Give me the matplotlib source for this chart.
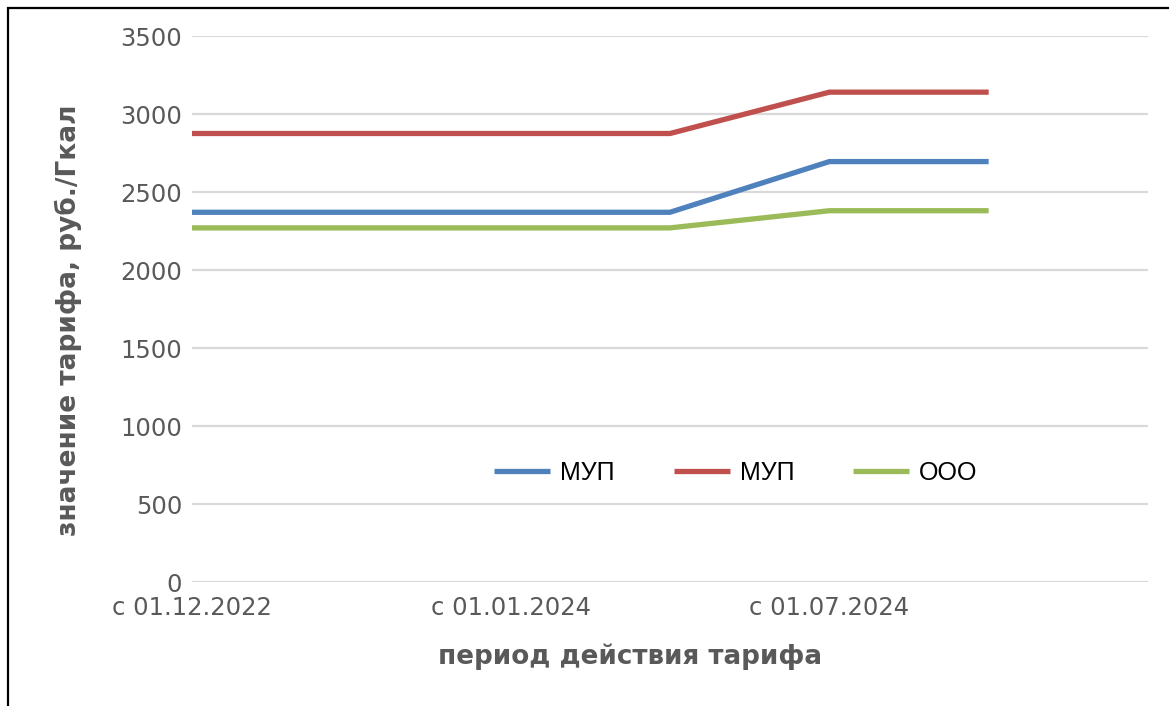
import matplotlib
matplotlib.use("Agg")
import matplotlib.pyplot as plt
from matplotlib.patches import Rectangle

# categories (every second one has no label on the axis)
periods = ['с 01.12.2022', '', 'с 01.01.2024', '', 'с 01.07.2024', '', '']
mup1 = [2370, 2370, 2370, 2370, 2695, 2695]
mup2 = [2875, 2875, 2875, 2875, 3140, 3140]
ooo = [2270, 2270, 2270, 2270, 2380, 2380]
names = ['МУП', 'МУП', 'ООО']
colors = ['#4F81BD', '#C0504D', '#9BBB59']

fig = plt.figure(figsize=(11.69, 7.06), dpi=100)
ax = fig.add_axes([192/1169, 1-582/706, (1148-192)/1169, (582-36)/706])

for vals, name, c in zip([mup1, mup2, ooo], names, colors):
    ax.plot(range(len(vals)), vals, color=c, lw=3.8, label=name,
            solid_capstyle='butt', solid_joinstyle='miter')

ax.set_xlim(0, len(periods) - 1)
ax.set_ylim(0, 3500)
ax.set_yticks(range(0, 3501, 500))
ax.set_xticks(range(len(periods)))
ax.set_xticklabels(periods)
ax.grid(axis='y', color='#D9D9D9', lw=1.6)
ax.set_axisbelow(True)
for s in ax.spines.values():
    s.set_visible(False)
ax.tick_params(length=0, labelsize=17.5, labelcolor='#595959')
ax.tick_params(axis='y', pad=7)
ax.tick_params(axis='x', pad=10)

ax.set_ylabel('значение тарифа, руб./Гкал', fontsize=19, fontweight='bold',
              color='#595959')
ax.yaxis.set_label_coords(-0.115, 0.48)
ax.set_xlabel('период действия тарифа', fontsize=18.8, fontweight='bold',
              color='#595959')
ax.xaxis.set_label_coords(0.458, -0.113)

ax.legend(loc='center', bbox_to_anchor=(0.569, 0.2), ncol=3, frameon=False,
          prop={'family': 'Liberation Sans', 'size': 18}, handlelength=2.25,
          columnspacing=2.35, handletextpad=0.4)

fig.patches.append(Rectangle((8/1169, -0.05), 1.2, 1-8/706+0.05,
                             transform=fig.transFigure, fill=False,
                             edgecolor='black', lw=1.6))

fig.savefig('out.png', dpi=100)
